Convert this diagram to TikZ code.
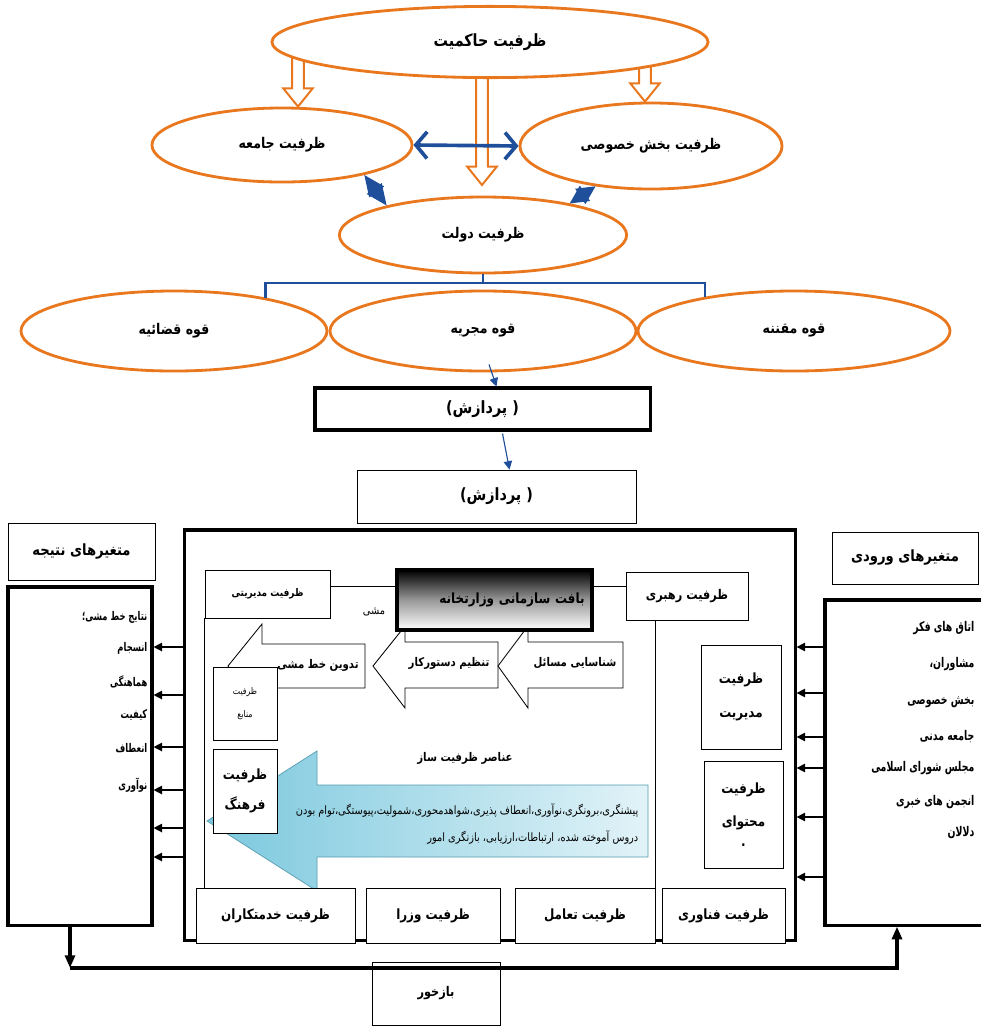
\documentclass[tikz,border=0pt]{standalone}
\usepackage{fontspec}
\usetikzlibrary{arrows.meta,calc,shapes.geometric,backgrounds}
\newfontfamily\arabicfont[Script=Arabic,FakeStretch=0.85]{DejaVu Sans}
\newfontfamily\arabicnarrow[Script=Arabic,FakeStretch=0.7]{DejaVu Sans}
\TeXXeTstate=1
\newcommand{\fatext}[1]{\beginR #1\endR}
\definecolor{ovalorange}{HTML}{E8771E}
\definecolor{linkblue}{HTML}{1F4E9A}
\definecolor{capblue}{HTML}{6CC2DA}

\begin{document}
\begin{tikzpicture}[x=0.025cm, y=-0.025cm, >={Triangle[length=6pt,width=6pt]},
  fs/.style 2 args={font=\arabicfont\bfseries\fontsize{#1}{#2}\selectfont},
  every node/.style={inner sep=1pt, fs={10}{12}},
  oval/.style={ellipse, draw=ovalorange, line width=2pt, fill=white, fs={10.5}{12}},
  box/.style={rectangle, draw, fill=white, line width=0.6pt},
  heavybox/.style={box, line width=2.2pt},
  listtext/.style={anchor=east, font=\arabicnarrow\bfseries\fontsize{8.5}{10}\selectfont},
  inputtext/.style={anchor=east, font=\arabicnarrow\bfseries\fontsize{9.5}{10}\selectfont},
  minitext/.style={font=\arabicfont\fontsize{8.2}{9}\selectfont},
  arrshape/.style={draw, fill=white, line width=0.6pt},
  capshape/.style={draw=capblue!80!black, line width=0.5pt, left color=capblue!90, right color=capblue!20},
  blockarr/.style={draw=ovalorange, fill=white, line width=1.4pt,
    to path={let \p1=(\tikztostart), \p2=(\tikztotarget) in
      -- (\x1+4.2pt,\y1) -- (\x1+4.2pt,\y2+13pt) -- (\x1+10.5pt,\y2+13pt) -- (\x1,\y2)
      -- (\x1-10.5pt,\y2+13pt) -- (\x1-4.2pt,\y2+13pt) -- (\x1-4.2pt,\y1) -- cycle}},
  link/.style={linkblue, line width=2.6pt, {Straight Barb[length=8pt,width=19pt]}-{Straight Barb[length=8pt,width=19pt]}},
  kite/.style={white, line width=0.8pt, {Triangle[length=#1,width=13pt,color=linkblue]}-{Triangle[length=#1,width=13pt,color=linkblue]}},
  bracket/.style={linkblue, line width=2pt},
  thinarrow/.style={->, linkblue, line width=0.8pt},
  sidearrow/.style={->, line width=0.9pt},
  feed/.style={-{Triangle[length=9pt,width=7pt]}, line width=2.4pt}]

  \useasboundingbox (0,0) rectangle (981,1028);

  % upper part: capacities
  \node[oval, minimum width=10.9cm, minimum height=1.78cm, fs={12}{14}] (hakem) at (490,42) {\fatext{ظرفیت حاکمیت}};
  \node[oval, minimum width=6.5cm, minimum height=1.85cm] (jameh) at (282,145) {\fatext{ظرفیت جامعه}};
  \node[oval, minimum width=6.55cm, minimum height=2.15cm] (khosusi) at (651,146) {\fatext{ظرفیت بخش خصوصی}};
  \node[oval, minimum width=7.18cm, minimum height=1.9cm] (dolat) at (483,235) {\fatext{ظرفیت دولت}};

  \coordinate (hl) at (298,0); \coordinate (hr) at (645,0); \coordinate (hc) at (482,185);
  \begin{scope}[on background layer]
    \draw[blockarr] (hakem.center -| hl) to (jameh.north -| hl);
    \draw[blockarr] (hakem.center -| hr) to (khosusi.north -| hr);
    \draw[blockarr] (hakem.center -| hc) to (hc);
  \end{scope}

  \draw[link] (jameh.east) -- (khosusi.west);
  \draw[kite=15pt] (jameh.-20) -- (dolat.163);
  \draw[kite=13pt] (khosusi.216) -- (dolat.20);

  \node[oval, minimum width=7.65cm, minimum height=2cm] (ghazaie) at (174,331) {\fatext{قوه قضائیه}};
  \node[oval, minimum width=7.65cm, minimum height=2cm] (mojrieh) at (483,331) {\fatext{قوه مجریه}};
  \node[oval, minimum width=7.8cm, minimum height=2cm] (moghnaneh) at (794,331) {\fatext{قوه مقننه}};

  \coordinate (brk) at (483,283);
  \draw[bracket] (ghazaie.20) |- (brk) -| (moghnaneh.159);
  \draw[bracket] (dolat.south) -- (brk);

  % processing
  \node[heavybox, minimum width=8.375cm, minimum height=1.05cm, fs={12}{14}] (proc1) at (482.5,409) {\fatext{( پردازش)}};
  \node[box, minimum width=6.975cm, minimum height=1.325cm, fs={12}{14}] (proc2) at (496.5,496.5) {\fatext{( پردازش)}};
  \draw[thinarrow] ($(mojrieh.south)+(6,-8)$) -- ($(proc1.north)+(14,0)$);
  \draw[thinarrow] ($(proc1.south)+(20,2)$) -- ($(proc2.north)+(13,0)$);

  % variables
  \node[box, minimum width=3.675cm, minimum height=1.425cm, fs={11}{13}] (outtitle) at (81.5,551.5) {\fatext{متغیرهای نتیجه}};
  \node[heavybox, minimum width=3.6cm, minimum height=8.45cm] (outbox) at (80,756) {};
  \node[box, minimum width=3.65cm, minimum height=1.3cm, fs={11}{13}] (intitle) at (905,558) {\fatext{متغیرهای ورودی}};
  \node[heavybox, minimum width=4.175cm, minimum height=8.125cm] (inbox) at (908.5,762.5) {};

  \foreach \txt/\yy [count=\i] in {نتایج خط مشی؛/617, انسجام/648, هماهنگی/682, کیفیت/715, انعطاف/748, نوآوری/785}
    \node[listtext] (res\i) at (149,\yy) {\fatext{\txt}};
  \foreach \txt/\yy [count=\i] in {اتاق های فکر/628, مشاوران،/664, بخش خصوصی/702, جامعه مدنی/737, مجلس شورای اسلامی/768, انجمن های خبری/802, دلالان/833}
    \node[inputtext] (inp\i) at (976,\yy) {\fatext{\txt}};

  % ministry
  \node[heavybox, minimum width=15.25cm, minimum height=10.25cm] (mainbox) at (490,735) {};
  \foreach \yy in {647,695,747,790,828,857}
    \draw[sidearrow] (mainbox.west |- 0,\yy) -- (outbox.east |- 0,\yy);
  \foreach \yy in {647,693,737,768,817,877}
    \draw[sidearrow] (inbox.west |- 0,\yy) -- (mainbox.east |- 0,\yy);

  \node[box, minimum width=3.125cm, minimum height=1.2cm, fs={7.5}{9}] (modiriati) at (267.5,594) {\fatext{ظرفیت مدیریتی}};
  \node[box, minimum width=3.05cm, minimum height=1.2cm, fs={9.5}{11}] (rahbari) at (687,596) {\fatext{ظرفیت رهبری}};
  \coordinate (frame) at (0,586);
  \draw (modiriati.south west) -- (modiriati.south west |- 0,888);
  \draw (rahbari.south -| 655,0) -- (655,888);

  \draw[capshape] (207,821) -- (317,751) -- (317,785) -- (648,785) -- (648,857) -- (317,857) -- (317,891) -- cycle;
  \node[fs={8.5}{10}] (anasor) at (465,758) {\fatext{عناصر ظرفیت ساز}};
  \node[minitext, anchor=east] (caps1) at (640,810) {\fatext{پیشنگری،برونگری،نوآوری،انعطاف پذیری،شواهدمحوری،شمولیت،پیوستگی،توام بودن}};
  \node[minitext, anchor=east] (caps2) at (640,837) {\fatext{دروس آموخته شده، ارتباطات،ارزیابی، بازنگری امور}};

  \draw[arrshape] (228,666) -- (262,624) -- (262,644) -- (365,644) -- (365,688) -- (262,688) -- (262,708) -- cycle;
  \draw[arrshape] (373,666) -- (405,626) -- (405,642) -- (498,642) -- (498,688) -- (405,688) -- (405,708) -- cycle;
  \draw[arrshape] (498,666) -- (528,626) -- (528,642) -- (623,642) -- (623,688) -- (528,688) -- (528,708) -- cycle;
  \node[fs={8.5}{10}] (tadvin) at (318,665) {\fatext{تدوین خط مشی}};
  \node[fs={8.5}{10}] (tanzim) at (449,663) {\fatext{تنظیم دستورکار}};
  \node[fs={8.5}{10}] (shenasai) at (575,663) {\fatext{شناسایی مسائل}};
  \node[minitext] (mashi) at (374,612) {\fatext{مشی}};

  \node[draw, line width=3pt, minimum width=4.875cm, minimum height=1.5cm, text width=4.5cm, align=right,
    top color=black, bottom color=white, middle color=black!40] (baft) at (494.5,600) {\fatext{بافت سازمانی وزارتخانه}};
  \draw (modiriati.east |- frame) -- (baft.west |- frame);
  \draw (baft.east |- frame) -- (rahbari.west |- frame);

  \node[box, minimum width=1.6cm, minimum height=1.825cm, align=center, font=\arabicfont\fontsize{6.5}{16}\selectfont] (manabe) at (245,703.5) {\fatext{ظرفیت}\\\fatext{منابع}};
  \node[box, minimum width=1.6cm, minimum height=2.1cm, align=center, fs={10}{21}] (farhang) at (245,791) {\fatext{ظرفیت}\\\fatext{فرهنگ}};
  \node[box, minimum width=2cm, minimum height=2.6cm, align=center, fs={10}{24}] (modiriat) at (741,697) {\fatext{ظرفیت}\\\fatext{مدیریت}};
  \node[box, minimum width=1.975cm, minimum height=2.675cm, align=center, fs={10}{24}] (mohtava) at (743.5,814.5) {\fatext{ظرفیت}\\\fatext{محتوای}\\[-10pt].};

  \node[box, minimum width=3.975cm, minimum height=1.375cm] (khedmat) at (275.5,915.5) {\fatext{ظرفیت خدمتکاران}};
  \node[box, minimum width=3.35cm, minimum height=1.375cm] (vozara) at (433,915.5) {\fatext{ظرفیت وزرا}};
  \node[box, minimum width=3.5cm, minimum height=1.375cm] (taamol) at (585,915.5) {\fatext{ظرفیت تعامل}};
  \node[box, minimum width=3.075cm, minimum height=1.375cm] (fanavari) at (723.5,915.5) {\fatext{ظرفیت فناوری}};

  % feedback
  \node[box, minimum width=3.2cm, minimum height=1.575cm, fs={9.5}{11}] (bazkhor) at (436,993.5) {\fatext{بازخور}};
  \coordinate (fbl) at (70,968); \coordinate (fbr) at (897,968);
  \draw[feed] (outbox.south -| fbl) -- (fbl);
  \draw[feed] (fbl) -- (fbr) -- (inbox.south -| fbr);
\end{tikzpicture}
\end{document}
